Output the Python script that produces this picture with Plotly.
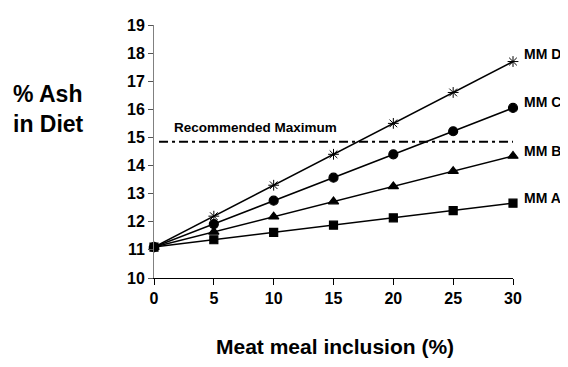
import plotly.graph_objects as go

inclusion = [0, 5, 10, 15, 20, 25, 30]
mm_a = [11.1, 11.36, 11.62, 11.88, 12.14, 12.4, 12.66]
mm_b = [11.1, 11.64, 12.18, 12.72, 13.26, 13.8, 14.34]
mm_c = [11.1, 11.92, 12.75, 13.57, 14.4, 15.22, 16.05]
mm_d = [11.1, 12.2, 13.3, 14.4, 15.5, 16.6, 17.7]
recommended_max = 14.85
series_names = ["MM A", "MM B", "MM C", "MM D"]
y_ticks = list(range(10, 20))
x_ticks = [0, 5, 10, 15, 20, 25, 30]

font = "Liberation Sans, Arial, sans-serif"
fig = go.Figure()

symbols = ["square", "triangle-up", "circle", "asterisk-open"]
sizes = [8, 9, 9, 9]
widths = [1.2, 1.2, 1.2, 1.0]
label_shift = [5, 5, 6, 8]
for name, vals, sym, sz, lw, ls in zip(series_names, [mm_a, mm_b, mm_c, mm_d], symbols, sizes, widths, label_shift):
    fig.add_trace(go.Scatter(
        x=inclusion, y=vals, mode="lines+markers", name=name,
        line=dict(color="black", width=1.5),
        marker=dict(symbol=sym, size=sz, color="black",
                    line=dict(color="black", width=lw)),
        cliponaxis=False, showlegend=False))
    fig.add_annotation(x=inclusion[-1], y=vals[-1], yshift=ls, text="<b>%s</b>" % name,
                       xref="x", yref="y", showarrow=False, xanchor="left",
                       xshift=9, font=dict(family=font, size=14, color="black"))

fig.add_trace(go.Scatter(
    x=[0.42, 30.4], y=[recommended_max, recommended_max], mode="lines",
    line=dict(color="black", width=2, dash="9px,4px,3px,4px"), showlegend=False,
    cliponaxis=False, hoverinfo="skip"))
fig.add_annotation(x=1.5, y=recommended_max, yshift=14, text="<b>Recommended Maximum</b>",
                   xref="x", yref="y", showarrow=False, xanchor="left",
                   font=dict(family=font, size=13.5, color="black"))

fig.add_annotation(x=-0.295, y=0.667, xref="paper", yref="paper",
                   text="<b>% Ash<br>in Diet</b>", showarrow=False,
                   xanchor="center", yanchor="middle", align="left",
                   font=dict(family=font, size=23, color="black"))

fig.add_annotation(x=0.504, y=-0.272, xref="paper", yref="paper",
                   text="<b>Meat meal inclusion (%)</b>", showarrow=False,
                   xanchor="center", yanchor="middle",
                   font=dict(family=font, size=21, color="black"))

fig.update_layout(
    width=560, height=351,
    margin=dict(l=146, r=55, t=9, b=81),
    plot_bgcolor="white", paper_bgcolor="white",
    font=dict(family=font, color="black"),
    xaxis=dict(range=[0, 30], tickvals=x_ticks, ticks="outside", ticklen=6,
               tickcolor="black", showline=True, linecolor="black", linewidth=1,
               showgrid=False, zeroline=False,
               tickfont=dict(family=font, size=16, color="black", weight="bold")),
    yaxis=dict(range=[10, 19], tickvals=y_ticks, ticks="outside", ticklen=5,
               tickcolor="#555555", showline=True, linecolor="#808080", linewidth=1,
               showgrid=False, zeroline=False,
               tickfont=dict(family=font, size=16, color="black", weight="bold")),
)

fig.write_html("out.html")
